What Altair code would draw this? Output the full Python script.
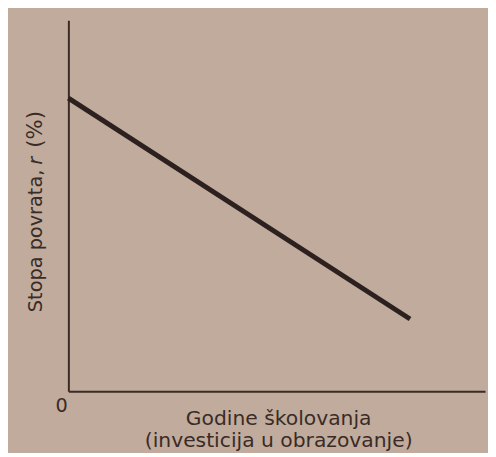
import altair as alt
import pandas as pd

# Data (axis scale 0..100)
schooling = [0, 82]
rate = [79, 19.5]
x_title = ["Godine školovanja", "(investicija u obrazovanje)"]
y_title_parts = ["Stopa povrata,", "r", "(%)"]

df = pd.DataFrame({"x": schooling, "y": rate})

FONT = "DejaVu Sans"
FS = 19.5
INK = "#3a2b26"
BG = "#c0ab9d"

line = alt.Chart(df).mark_line(color="#2c211e", strokeWidth=5, strokeCap="butt").encode(
    x=alt.X("x:Q", scale=alt.Scale(domain=[0, 100], nice=False),
            axis=alt.Axis(values=[0], ticks=False, grid=False, labelOffset=-13.5,
                          labelPadding=5, labelFontSize=FS, labelColor=INK, labelFont=FONT,
                          domainColor=INK, domainWidth=2,
                          title=x_title, titleFont=FONT, titleFontSize=20.5,
                          titleFontWeight="normal", titleColor=INK, titleLineHeight=22,
                          titleBaseline="alphabetic", titleY=34, titleX=212)),
    y=alt.Y("y:Q", scale=alt.Scale(domain=[0, 100], nice=False),
            axis=alt.Axis(labels=False, ticks=False, grid=False, title=None,
                          domainColor=INK, domainWidth=2)),
)

def ytext(txt, y, align="left", style="normal", size=FS):
    return alt.Chart(pd.DataFrame({"t": [txt]})).mark_text(
        angle=270, align=align, baseline="alphabetic", font=FONT, fontSize=size,
        fontStyle=style, color=INK).encode(text="t:N", x=alt.value(-27), y=alt.value(y))

t1 = ytext(y_title_parts[0], 295)
t2 = ytext(y_title_parts[1], 146, style="italic")
t3 = ytext(y_title_parts[2], 129, size=21.5)

chart = alt.layer(line, t1, t2, t3).properties(
    width=421, height=375,
    autosize=alt.AutoSizeParams(type="none"),
    padding={"left": 61, "top": 10, "right": 3, "bottom": 60},
    background=BG,
).configure_view(stroke=None)

chart.save("out.html", embed_options={"renderer": "svg", "actions": False})
